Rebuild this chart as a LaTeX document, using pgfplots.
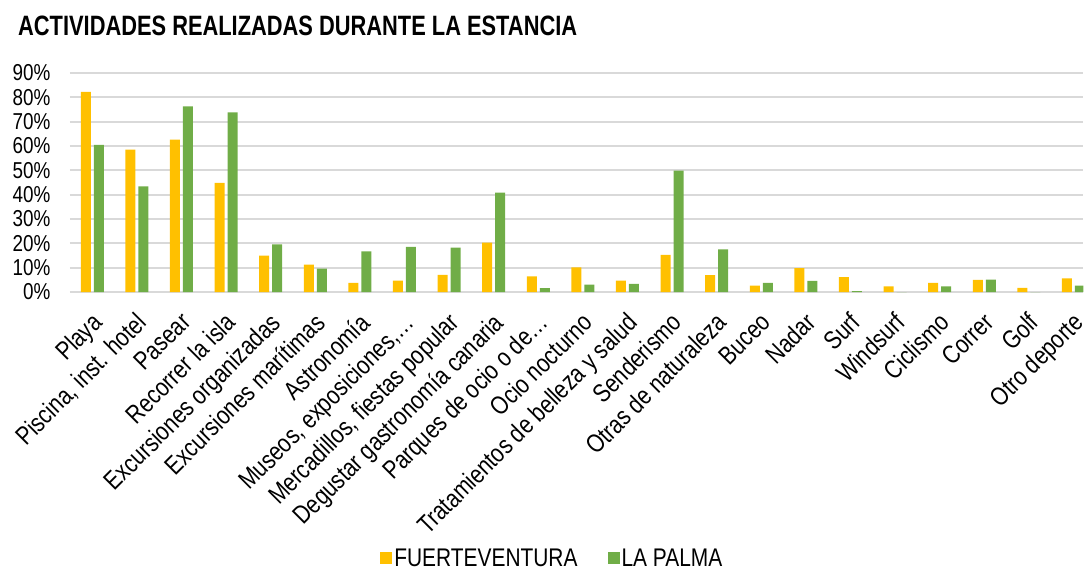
\documentclass[border=0pt]{standalone}
\usepackage{fontspec}
\setmainfont{Liberation Sans}[FakeStretch=0.82]
\newfontfamily\titlefont{Liberation Sans}[FakeStretch=0.78]
\usepackage{pgfplots}
\pgfplotsset{compat=1.18}
\definecolor{fv}{HTML}{FFC000}
\definecolor{lp}{HTML}{70AD47}
\definecolor{gridc}{HTML}{D9D9D9}
\newcommand{\fs}{\fontsize{23}{26}\selectfont}
\newcommand{\fx}{\fontsize{25.8}{30}\selectfont}
\newcommand{\fl}{\fontsize{25.5}{28}\selectfont}
\begin{document}
\begin{tikzpicture}
\begin{axis}[name=ax, at={(0pt,0pt)}, anchor=south west,
  scale only axis, width=1013.3pt, height=219pt,
  ymin=0, ymax=90, ytick={0,10,...,90},
  yticklabel={\pgfmathprintnumber{\tick}\%},
  xmin=-0.5, xmax=22.22, enlargelimits=false,
  xtick={0,...,22},
  xticklabels={Playa,{Piscina, inst. hotel},Pasear,Recorrer la isla,Excursiones organizadas,Excursiones marítimas,Astronomía,{Museos, exposiciones,…},{Mercadillos, fiestas popular},Degustar gastronomía canaria,Parques de ocio o de…,Ocio nocturno,Tratamientos de belleza y salud,Senderismo,Otras de naturaleza,Buceo,Nadar,Surf,Windsurf,Ciclismo,Correr,Golf,Otro deporte},
  /pgf/number format/assume math mode=true,
  ybar=3pt, bar width=10pt,
  axis line style={draw=none},
  major tick length=0pt,
  ymajorgrids, grid style={gridc, line width=1.8pt},
  yticklabel style={font=\fs, anchor=east, xshift=-16pt},
  xticklabel style={font=\fx, yshift=-19pt, xshift=-2pt, rotate=45, anchor=north east, inner sep=0pt},
  legend style={at={(axis description cs:0.476,-1.215)}, anchor=center, draw=none, font=\fl, legend columns=2,
    /tikz/every even column/.append style={column sep=28pt}},
  legend image code/.code={\fill[#1] (0pt,-6pt) rectangle (12pt,6pt);},
]
\addplot[fill=fv, draw=none] coordinates {(0,82.2) (1,58.5) (2,62.6) (3,44.8) (4,15.0) (5,11.3) (6,3.8) (7,4.7) (8,7.0) (9,20.3) (10,6.4) (11,10.1) (12,4.7) (13,15.3) (14,6.9) (15,2.6) (16,9.8) (17,6.1) (18,2.3) (19,3.7) (20,5.0) (21,1.7) (22,5.6)};
\addplot[fill=lp, draw=none] coordinates {(0,60.5) (1,43.4) (2,76.3) (3,73.8) (4,19.6) (5,9.6) (6,16.7) (7,18.5) (8,18.2) (9,40.8) (10,1.6) (11,3.0) (12,3.3) (13,49.9) (14,17.5) (15,3.7) (16,4.6) (17,0.4) (18,0) (19,2.3) (20,5.1) (21,0) (22,2.6)};
\legend{FUERTEVENTURA, LA PALMA}
\end{axis}
\node[anchor=base west, font=\titlefont\bfseries\fontsize{28}{32}\selectfont, inner sep=0pt] at (-52pt,256pt) {ACTIVIDADES REALIZADAS DURANTE LA ESTANCIA};
\pgfresetboundingbox
\path[use as bounding box] (-70pt,-278pt) rectangle (1014pt,292pt);
\end{tikzpicture}
\end{document}
